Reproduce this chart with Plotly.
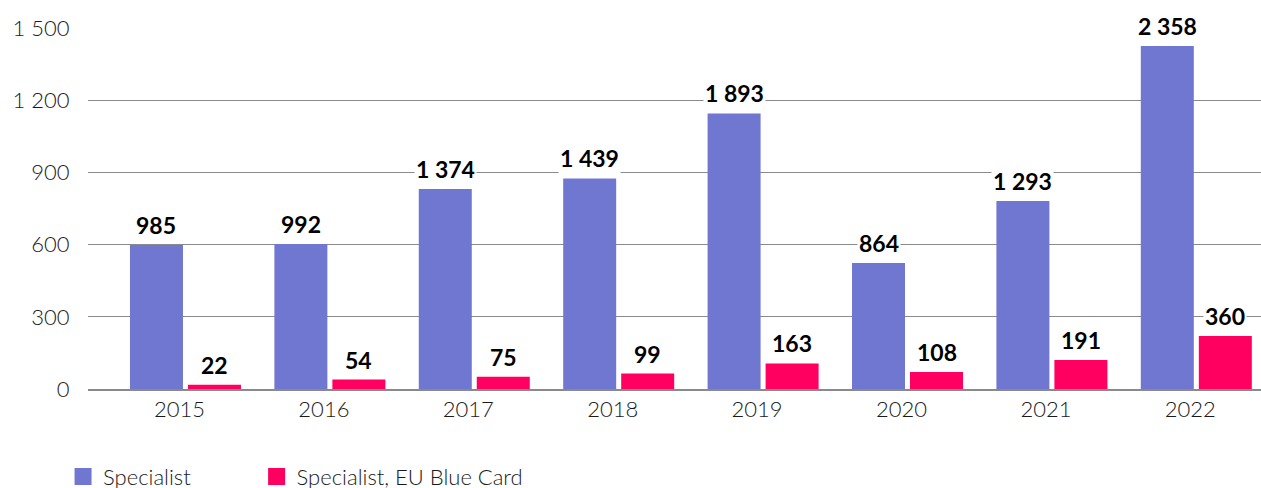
import plotly.graph_objects as go

years = ["2015", "2016", "2017", "2018", "2019", "2020", "2021", "2022"]
# bar heights as drawn against the y axis
specialist_height = [598, 602, 831, 875, 1145, 524, 781, 1425]
bluecard_height = [18, 39, 51, 64, 106, 71, 120, 220]
# data labels as printed above the bars
specialist_labels = ["985", "992", "1 374", "1 439", "1 893", "864", "1 293", "2 358"]
bluecard_labels = ["22", "54", "75", "99", "163", "108", "191", "360"]
y_ticks = [0, 300, 600, 900, 1200, 1500]
y_ticktext = ["0", "300", "600", "900", "1 200", "1 500"]

BLUE = "#7077D0"
PINK = "#FF0060"
FONT = "Lato"

unit_px = 144.4
bar_w = 53 / unit_px
gap = 5 / unit_px

fig = go.Figure()
fig.add_trace(go.Bar(x=years, y=specialist_height, name="Specialist",
                     marker=dict(color=BLUE, line=dict(width=0)),
                     width=bar_w, offset=-(bar_w + gap / 2), showlegend=False,
                     hoverinfo="skip"))
fig.add_trace(go.Bar(x=years, y=bluecard_height, name="Specialist, EU Blue Card",
                     marker=dict(color=PINK, line=dict(width=0)),
                     width=bar_w, offset=gap / 2, showlegend=False,
                     hoverinfo="skip"))
# legend entries (one legend per entry so they can be spaced like the reference)
fig.add_trace(go.Bar(x=[None], y=[None], name="Specialist", legend="legend",
                     marker=dict(color=BLUE, line=dict(color=BLUE, width=5))))
fig.add_trace(go.Bar(x=[None], y=[None], name="Specialist, EU Blue Card", legend="legend2",
                     marker=dict(color=PINK, line=dict(color=PINK, width=5))))

annotations = []
for labels, heights, shift in ((specialist_labels, specialist_height, -29),
                               (bluecard_labels, bluecard_height, 29)):
    for i, (lab, h) in enumerate(zip(labels, heights)):
        annotations.append(dict(
            x=i, y=h, xref="x", yref="y", text="<b>" + lab + "</b>", showarrow=False,
            xanchor="center", yanchor="bottom", xshift=shift, yshift=4,
            bgcolor="white", borderpad=1,
            font=dict(family=FONT, size=23, color="black")))

legend_common = dict(orientation="h", xref="container", yref="container",
                     xanchor="left", yanchor="top",
                     font=dict(family=FONT, size=22, color="#1a1a1a", weight=300),
                     bgcolor="rgba(0,0,0,0)")

fig.update_layout(
    width=1261, height=488,
    margin=dict(l=88, r=0, t=28, b=99, autoexpand=False),
    paper_bgcolor="white", plot_bgcolor="white",
    barmode="overlay",
    font=dict(family=FONT, size=22, color="#1a1a1a"),
    annotations=annotations,
    showlegend=True,
    legend=dict(x=0.05, y=0.066, **legend_common),
    legend2=dict(x=0.2035, y=0.066, **legend_common),
)
fig.update_xaxes(type="category", range=[-0.675, 7.448], showgrid=False,
                 showline=True, linecolor="#8a8a8a", linewidth=1.5,
                 ticks="", ticklabelshift=-6,
                 tickfont=dict(family=FONT, size=22, color="#1a1a1a", weight=300))
fig.update_yaxes(range=[0, 1500], tickvals=y_ticks, ticktext=y_ticktext,
                 showgrid=True, gridcolor="#8a8a8a", gridwidth=1,
                 zeroline=False, showline=False,
                 ticks="outside", ticklen=13, tickcolor="rgba(0,0,0,0)",
                 tickfont=dict(family=FONT, size=22, color="#1a1a1a", weight=300))

fig.write_html("out.html", config={"displayModeBar": False},
               post_script="document.body.style.margin = '0';")
